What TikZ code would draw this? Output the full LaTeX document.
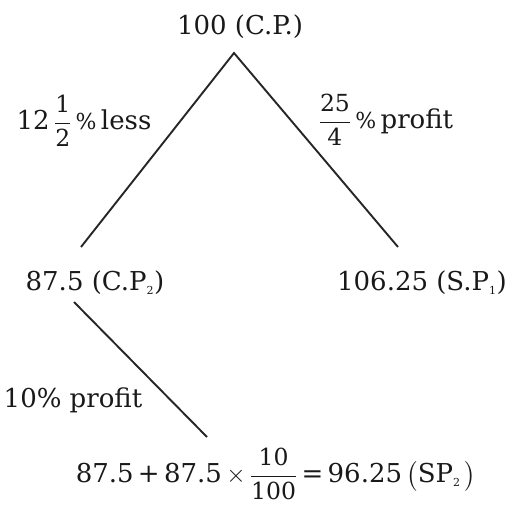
\documentclass[tikz,border=0pt]{standalone}
\usepackage{amsmath}
\usepackage{fontspec}
\setmainfont{DejaVu Serif}
\newcommand{\smallfr}[2]{\genfrac{}{}{1pt}{0}{\text{\fontsize{23.5}{23.5}\selectfont #1}}{\text{\fontsize{23.5}{23.5}\selectfont #2}}}
\newcommand{\subs}[1]{$_{\text{\fontsize{11}{11}\selectfont #1}}$}
\begin{document}
\begin{tikzpicture}[x=1pt,y=-1pt,
  lbl/.style={inner sep=0pt, text=black!90, font=\fontsize{26}{30}\selectfont},
  conn/.style={line width=1.9pt, color=black!85}]
\useasboundingbox (0,0) rectangle (507,507);
\node[lbl] (top) at (240,27) {100 (C.P.)};
\node[lbl] (cp2) at (95,283) {87.5 (C.P\subs{2})};
\node[lbl] (sp1) at (422,283) {106.25 (S.P\subs{1})};
\node[lbl] (lless) at (84,121) {12\,$\smallfr{1}{2}$\,{\fontsize{22}{22}\selectfont\%}\,less};
\node[lbl] (lprof) at (386,120) {$\smallfr{25}{4}$\,{\fontsize{22}{22}\selectfont\%}\,profit};
\node[lbl] (lten) at (73,400) {10\% profit};
\node[lbl] (sp2) at (276,474) {87.5\,+\,87.5\,$\times$\,$\smallfr{10}{100}$\,=\,96.25\,$\bigl($SP\subs{2}$\,\bigr)$};
\coordinate (apex) at (234,53);
\coordinate (lend) at (81,247);
\coordinate (rend) at (398,247);
\coordinate (bstart) at (74,302);
\coordinate (bend) at (207,437);
\draw[conn] (lend) -- (apex) -- (rend);
\draw[conn] (bstart) -- (bend);
\end{tikzpicture}
\end{document}
